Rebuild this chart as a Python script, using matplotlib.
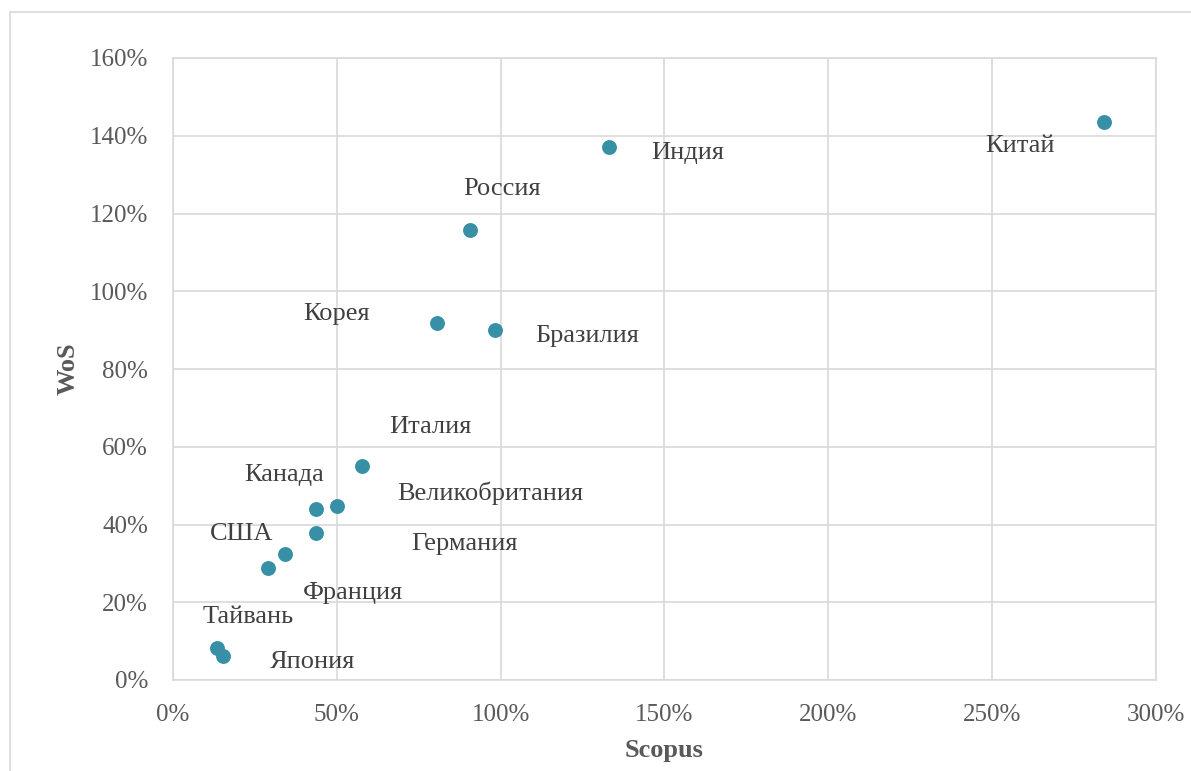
import matplotlib.pyplot as plt
from matplotlib.patches import Rectangle
from matplotlib.ticker import FuncFormatter

# growth in Scopus (x) and WoS (y), fractions
countries = ["Китай", "Индия", "Россия", "Корея", "Бразилия", "Италия",
             "Великобритания", "Канада", "Германия", "Франция", "США",
             "Тайвань", "Япония"]
scopus = [2.84, 1.33, 0.905, 0.807, 0.983, 0.577, 0.50, 0.437, 0.437,
          0.342, 0.29, 0.134, 0.153]
wos = [1.435, 1.371, 1.157, 0.918, 0.900, 0.550, 0.448, 0.440, 0.378,
       0.324, 0.288, 0.082, 0.062]
# label offsets in pixels (dx right, dy up)
label_dx = [-84, 79, 32, -101, 92, 68, 153, -32, 148, 68, -26, 31, 89]
label_dy = [-24, -6, 41, 9, -6, 39, 13, 34, -11, -39, 34, 31, -6]

plt.rcParams['font.family'] = ['Liberation Serif', 'DejaVu Serif']

fig = plt.figure(figsize=(11.91, 7.71), dpi=100)
ax = fig.add_axes([173/1191, 91/771, (1156-173)/1191, (680-58)/771])

# outer chart border
fig.patches.append(Rectangle((10/1191, -0.1), 1.2, 1 - 12/771 + 0.1,
                             transform=fig.transFigure, fill=False,
                             edgecolor="#d9d9d9", linewidth=1.2))

ax.scatter(scopus, wos, s=115, color="#3790a5", zorder=3, linewidths=0)

for name, x, y, dx, dy in zip(countries, scopus, wos, label_dx, label_dy):
    ax.annotate(name, (x, y), xytext=(dx * 0.72, dy * 0.72),
                textcoords="offset points", ha="center", va="center",
                fontsize=19, color="#404040")

ax.set_xlim(0, 3.0)
ax.set_ylim(0, 1.6)
ax.set_xticks([0, 0.5, 1.0, 1.5, 2.0, 2.5, 3.0])
ax.set_yticks([0, 0.2, 0.4, 0.6, 0.8, 1.0, 1.2, 1.4, 1.6])
pct = FuncFormatter(lambda v, p: "{:.0f}%".format(v * 100))
ax.xaxis.set_major_formatter(pct)
ax.yaxis.set_major_formatter(pct)

ax.grid(True, color="#d9d9d9", linewidth=1.2, zorder=0)
ax.set_axisbelow(True)
for sp in ax.spines.values():
    sp.set_color("#d9d9d9")
    sp.set_linewidth(1.2)
ax.tick_params(axis="y", length=0, labelsize=18, labelcolor="#595959", pad=18)
ax.tick_params(axis="x", length=0, labelsize=18, labelcolor="#595959", pad=17)

ax.set_xlabel("Scopus", fontsize=19, fontweight="bold", color="#595959",
              labelpad=10)
ax.set_ylabel("WoS", fontsize=19, fontweight="bold", color="#595959",
              labelpad=7)

fig.savefig("out.png", dpi=100)
